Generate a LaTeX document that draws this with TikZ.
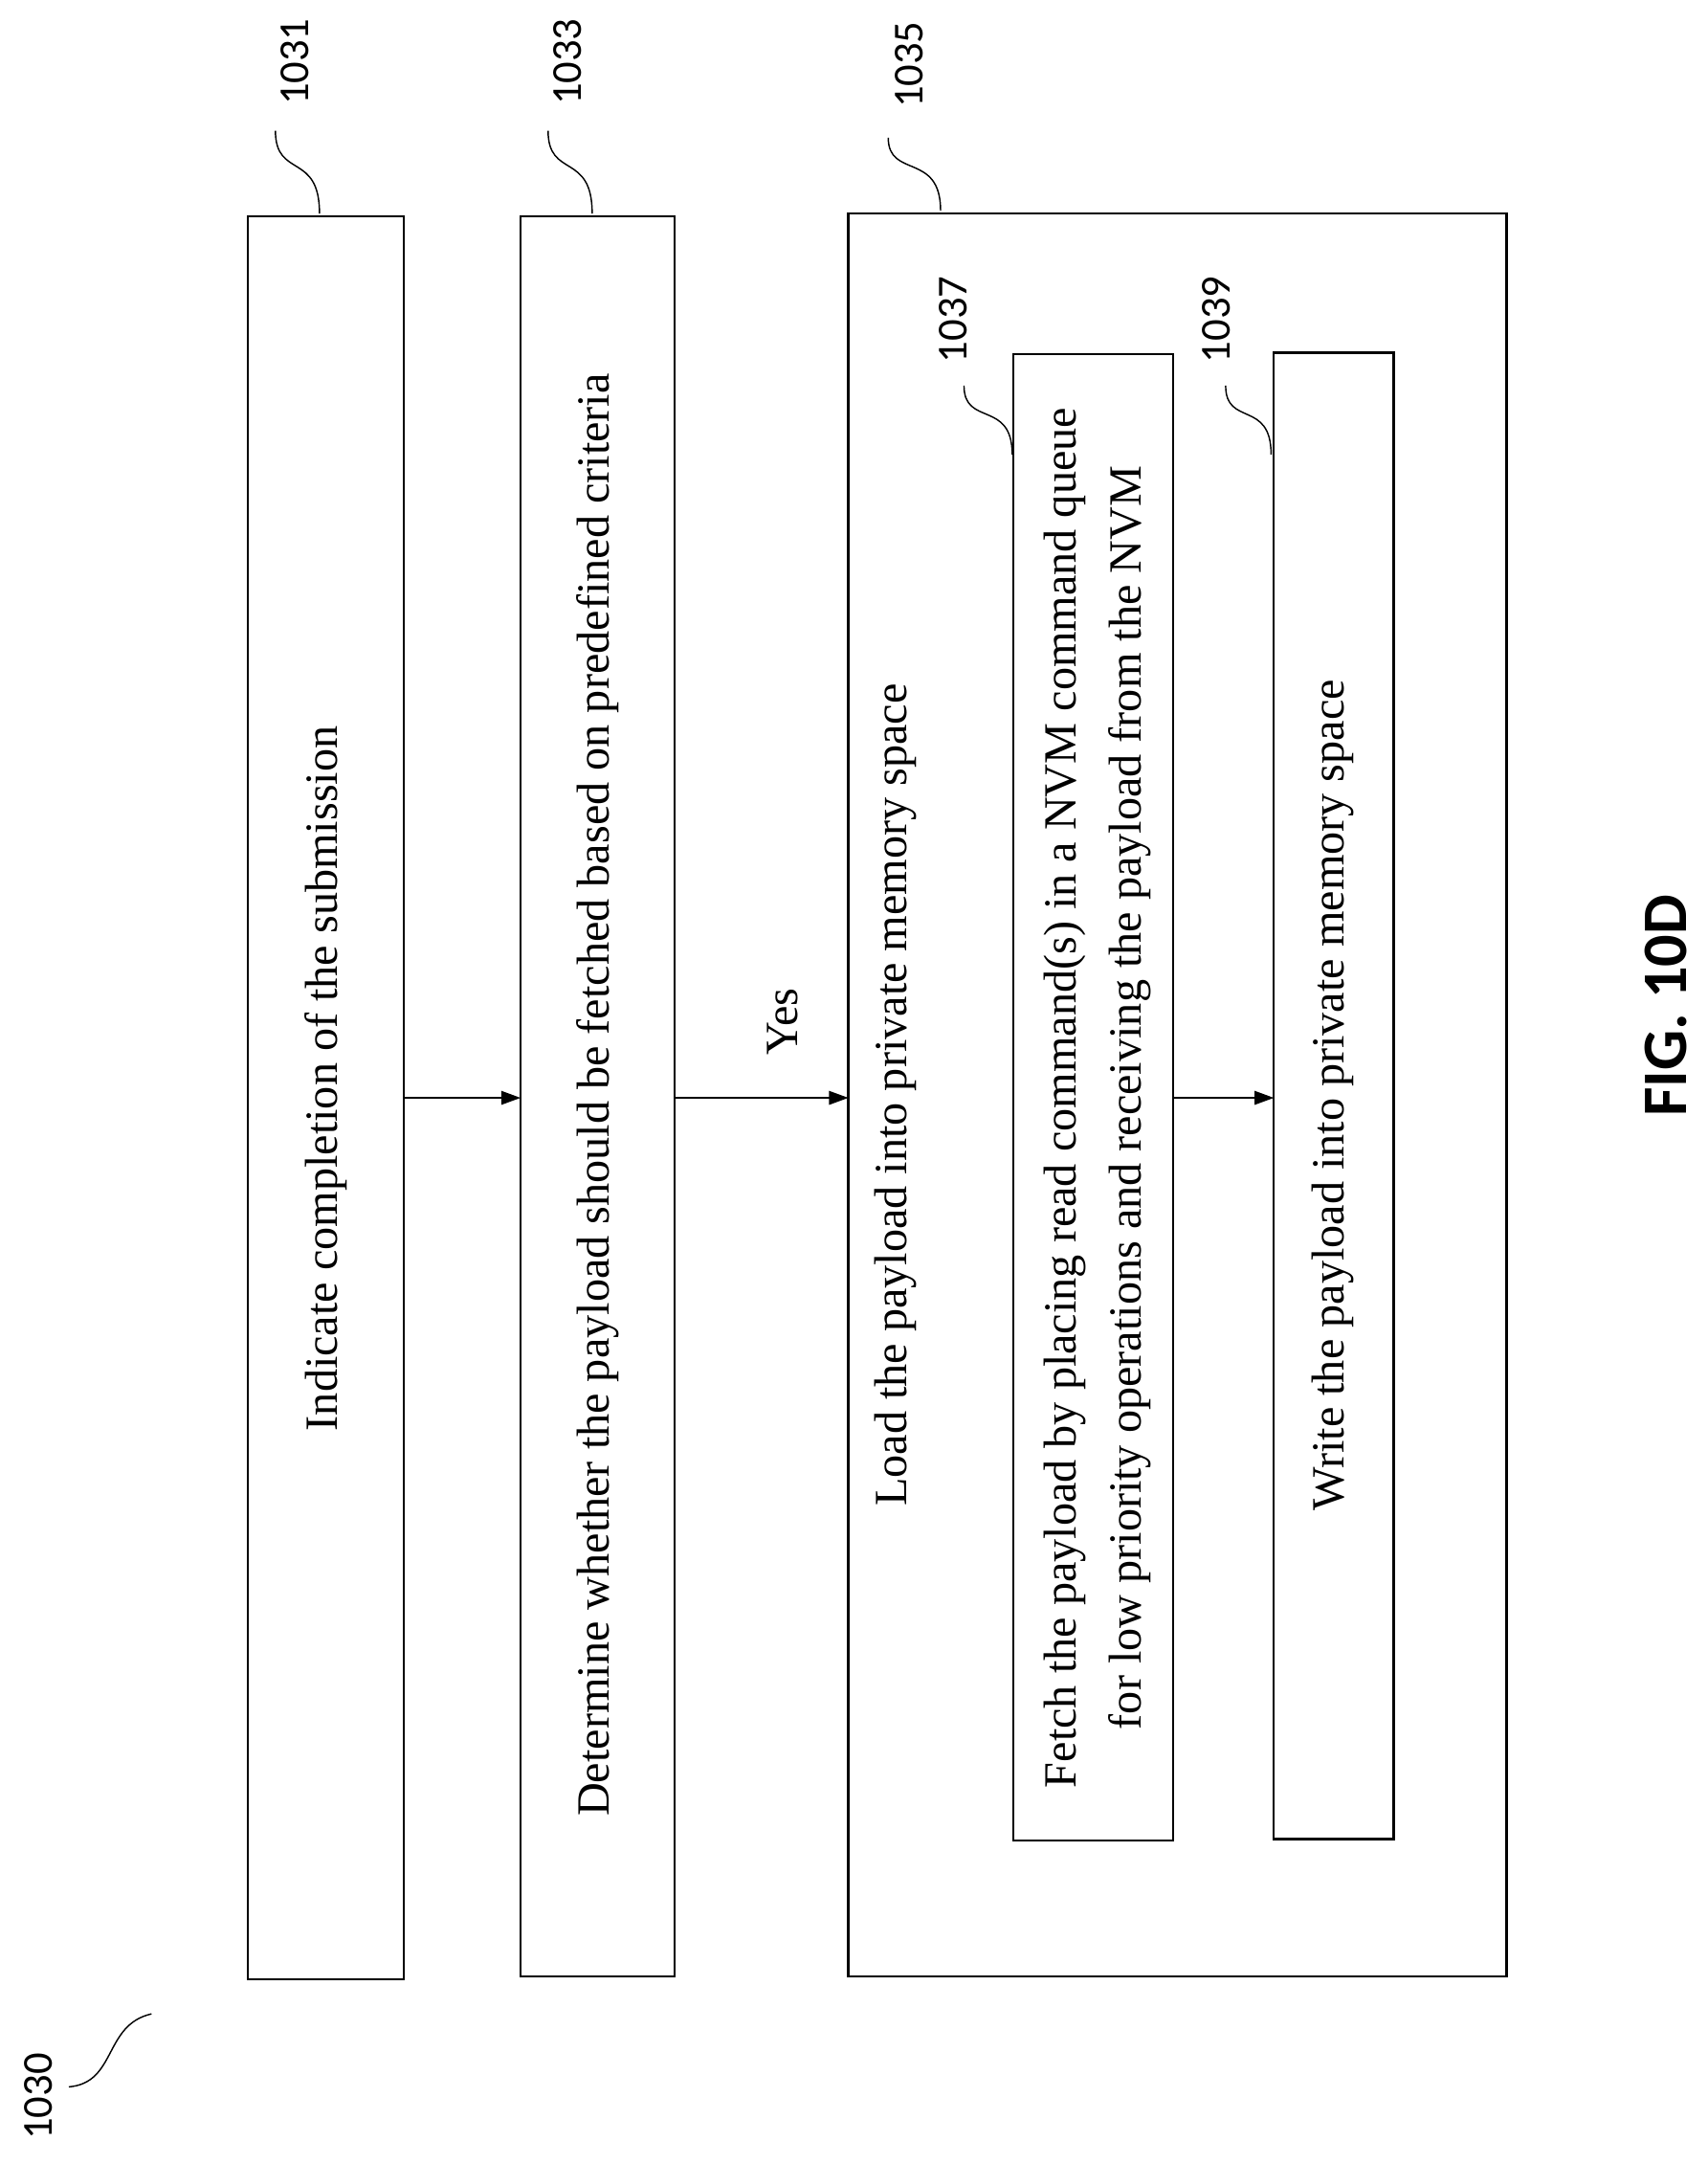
\documentclass[tikz,border=0pt]{standalone}
\usepackage{fontspec}
\setmainfont{Liberation Serif}
\newfontfamily\numfont{Carlito}
\usetikzlibrary{arrows.meta}
\begin{document}
\begin{tikzpicture}[x=1pt,y=-1pt,
  box/.style={draw,line width=1.6pt},
  txt/.style={rotate=90,font=\fontsize{33.5}{47}\selectfont,align=center},
  num/.style={rotate=90,font=\numfont\fontsize{31}{33}\selectfont},
  lead/.style={line width=1pt},
  arr/.style={-{Triangle[length=14pt,width=10pt]},line width=1pt}]
\useasboundingbox (0,0) rectangle (1240,1571);
\draw[box] (180,157) rectangle (293,1437);
\draw[box] (378,157) rectangle (490,1435);
\draw[box] (616,155) rectangle (1094,1435);
\draw[box] (736,257) rectangle (852,1336);
\draw[box] (925,256) rectangle (1012,1335);
\node[txt] (t1) at (237,783) {Indicate completion of the submission};
\node[txt] (t2) at (434,795) {Determine whether the payload should be fetched based on predefined criteria};
\node[txt] (t3) at (650,795) {Load the payload into private memory space};
\node[txt] (t4) at (797,797) {Fetch the payload by placing read command(s) in a NVM command queue\\for low priority operations and receiving the payload from the NVM};
\node[txt] (t5) at (968,795) {Write the payload into private memory space};
\coordinate (a1) at (293,797); \coordinate (b1) at (378,797);
\coordinate (a2) at (490,797); \coordinate (b2) at (616,797);
\coordinate (a3) at (852,797); \coordinate (b3) at (925,797);
\draw[arr] (a1) -- (b1);
\draw[arr] (a2) -- (b2);
\draw[arr] (a3) -- (b3);
\node[txt] (yes) at (568,742) {Yes};
\node[num] (n1) at (214,45) {1031};
\node[num] (n2) at (412,45) {1033};
\node[num] (n3) at (660,47) {1035};
\node[num] (n4) at (692,232) {1037};
\node[num] (n5) at (883,232) {1039};
\node[num] (n6) at (28,1522) {1030};
\draw[lead] (232,155) .. controls (232,110) and (200,130) .. (200,95);
\draw[lead] (430,155) .. controls (430,110) and (398,130) .. (398,95);
\draw[lead] (683,153) .. controls (683,110) and (645,130) .. (645,100);
\draw[lead] (735,330) .. controls (735,290) and (700,310) .. (700,280);
\draw[lead] (923,330) .. controls (923,290) and (890,310) .. (890,280);
\draw[lead] (50,1515) .. controls (85,1512) and (75,1470) .. (110,1462);
\node[rotate=90,font=\numfont\bfseries\fontsize{46}{50}\selectfont] (fig) at (1210,730) {FIG. 10D};
\end{tikzpicture}
\end{document}
